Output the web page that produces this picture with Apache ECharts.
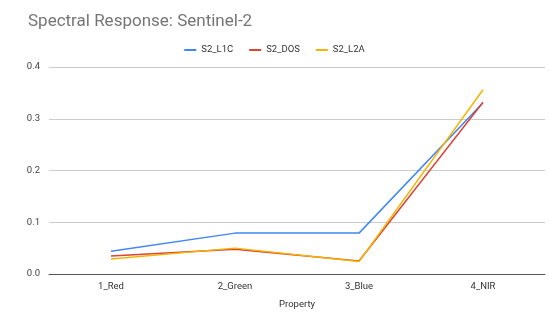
<!DOCTYPE html>
<html><head><meta charset="utf-8">
<script src="https://cdn.jsdelivr.net/npm/echarts@6/dist/echarts.min.js"></script>
<style>html,body{margin:0;padding:0;background:#fff}#c{width:549px;height:322px}</style>
</head><body><div id="c"></div>
<script>
const categories = ['1_Red', '2_Green', '3_Blue', '4_NIR'];
const seriesNames = ['S2_L1C', 'S2_DOS', 'S2_L2A'];
const s2_L1C = [0.044, 0.079, 0.079, 0.331];
const s2_DOS = [0.035, 0.048, 0.025, 0.332];
const s2_L2A = [0.029, 0.050, 0.024, 0.356];
const yTicks = [0, 0.1, 0.2, 0.3, 0.4];
const colors = ['#4285F4', '#DB4437', '#F4B400'];
const values = [s2_L1C, s2_DOS, s2_L2A];

const chart = echarts.init(document.getElementById('c'));
chart.setOption({
  animation: false,
  color: colors,
  title: { text: 'Spectral Response: Sentinel-2', left: 23, top: 8,
    textStyle: { fontFamily: 'Roboto', fontWeight: 'normal', fontSize: 17, color: '#757575' } },
  legend: { top: 40, left: 'center', itemWidth: 12, itemHeight: 2, itemGap: 16,
    icon: 'rect',
    textStyle: { fontFamily: 'Roboto', fontSize: 9.5, color: '#333' },
    data: seriesNames },
  grid: { left: 49, right: 4, top: 67, bottom: 48 },
  xAxis: { type: 'category', data: categories, boundaryGap: true,
    name: 'Property', nameLocation: 'middle', nameGap: 26,
    nameTextStyle: { fontFamily: 'Roboto', fontSize: 9.5, color: '#333' },
    axisLine: { lineStyle: { color: '#555', width: 1 } },
    axisTick: { show: false },
    axisLabel: { fontFamily: 'Roboto', fontSize: 9.5, color: '#333', margin: 8 } },
  yAxis: { type: 'value', min: 0, max: 0.4, interval: 0.1,
    axisLine: { show: false }, axisTick: { show: false },
    splitLine: { lineStyle: { color: '#ccc' } },
    axisLabel: { fontFamily: 'Roboto', fontSize: 9.5, color: '#444', margin: 9,
      formatter: v => v.toFixed(1) } },
  series: seriesNames.map((n, i) => ({
    name: n, type: 'line', data: values[i], symbol: 'none',
    lineStyle: { width: 1.5, color: colors[i] }
  }))
});
</script></body></html>
